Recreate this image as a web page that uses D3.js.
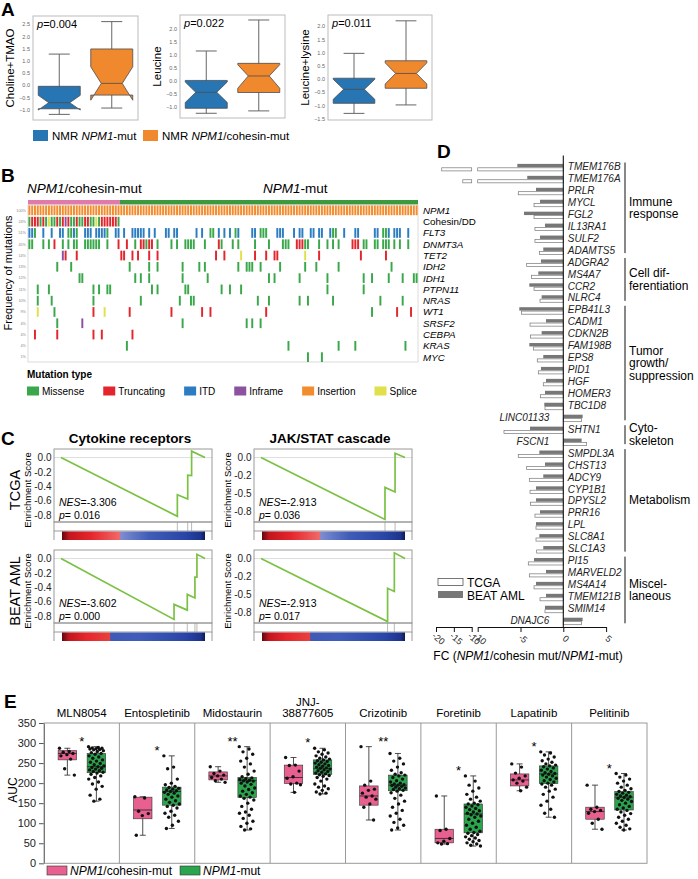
<!DOCTYPE html>
<html>
<head>
<meta charset="utf-8">
<script src="https://cdn.jsdelivr.net/npm/d3@7"></script>
<style>
body{margin:0;background:#fff;}
</style>
</head>
<body>
<div id="vis"></div>
<script>
// ---------- panel A: metabolite boxplots ----------
var metNames = ["Choline+TMAO","Leucine","Leucine+lysine"];
var metP = ["0.004","0.022","0.011"];
var metDomain = [[-1.43,2.83],[-1.41,2.51],[-1.55,2.42]];
var metTicks = [[-1,-0.5,0,0.5,1,1.5,2,2.5],[-1,-0.5,0,0.5,1,1.5,2],[-1.5,-1,-0.5,0,0.5,1,1.5,2]];
// lo, q1, notch lo, median, notch hi, q3, hi
var metMut = [[-1.2,-0.97,-1.02,-0.72,-0.42,-0.05,1.27],[-1.23,-1.04,-0.82,-0.43,-0.04,0.02,1.14],[-1.3,-0.92,-0.77,-0.39,-0.01,0.03,0.97]];
var metCoh = [[-0.94,-0.41,-0.62,0.07,0.75,1.48,2.6],[-1.14,-0.44,-0.28,0.19,0.62,0.67,2.32],[-0.98,-0.35,-0.19,0.21,0.61,0.69,2.2]];
var metLegend = [[["NMR ",0],["NPM1",1],["-mut",0]],[["NMR ",0],["NPM1",1],["/cohesin-mut",0]]];

// ---------- panel B: oncoprint ----------
var genes = ["NPM1","Cohesin/DD","FLT3","DNMT3A","TET2","IDH2","IDH1","PTPN11","NRAS","WT1","SRSF2","CEBPA","KRAS","MYC"];
var nCohesin = 33, nNpm1 = 107;
var mutTypes = ["Missense","Truncating","ITD","Inframe","Insertion","Splice"];
var mutKeys = ["M","T","I","F","N","S"];
var mutColors = ["#3aa84a","#e3262e","#2b7cc0","#8c52a0","#f28c2e","#e0e04a"];
// one letter per cohesin-mut sample
var cohesinDD = "MTTTMTMSMMTMTFTMMTMMTTMMSMTTTTTTM";
// sample index + mutation type
var flt3 = ["0I","1I","2M","5I","8I","11I","12I","14M","15M","16I","17M","20I","21I","22I","24I","25I","26I","27I","28M","31I","32I","34I","37I","38I","39I","40I","41I","43I","45I","49I","50I","52I","53I","60I","62I","65M","66M","68I","70I","72I","74M","75I","80I","81I","83M","84M","85M","89I","90I","91I","95I","97I","98I","101I","102I","104I","105I","108I","109M","110M","113I","117I","118I","124I","125I","127M","128M","129I","131I","132I","133I","136I"];
var dnmt3a = ["0M","1M","5M","7M","9T","12M","14M","16M","17M","20M","21M","22M","23M","24M","25M","28M","32T","35T","38M","40T","41T","42M","43T","44T","46M","51M","53M","56M","57M","58M","59M","63M","68T","69M","73M","75M","81M","86M","91M","92M","93M","96T","97T","98T","99M","100M","104M","107M","109M","111M","116T","117T","118T","120M","121M","124M","125M","127M","128M","129M","131M","133M","136M"];
var tet2 = ["12F","13T","17T","33T","34T","37T","39T","43T","46T","67T","70T","76S","81T","85T","88T","89T","99S","104T","119T","128T"];
var idh2 = ["10M","15M","36M","43M","46M","55M","61M","63M","75M","78M","79M","80M","83M","90M","99M","103M","111M","130M"];
var idh1 = ["18M","19M","38M","40M","43M","55M","64M","86M","88M","97M","107M","120M","123M","129M","134M","138M","139M"];
var ptpn11 = ["3M","7M","23M","25M","28M","29M","44M","46M","56M","57M","69M","72M","76M","107M","120M"];
var nras = ["3M","8M","23M","40M","54M","58M","59M","82M","86M","97M","100M","109M","126M","134M"];
var wt1 = ["3S","9M","23T","27S","36T","51T","62T","65T","85T","123M","132T","137T"];
var srsf2 = ["10M","19F","55M","78M","80M","83M"];
var cebpa = ["2T","10T","23T","26T","37T"];
var kras = ["35M","93M","111M","117M","135M"];
var myc = ["100M","105M"];

// ---------- panel C: GSEA ----------
var gseaTitles = ["Cytokine receptors","JAK/STAT cascade"];
var gseaRows = ["TCGA","BEAT AML"];
var gseaNes = ["-3.306","-2.913","-3.602","-2.913"];
var gseaP = ["0.016","0.036","0.000","0.017"];
var gseaCurves = [
  [[0,0],[0.808,-0.82],[0.808,-0.52],[0.88,-0.58],[0.88,-0.245],[0.907,-0.25],[0.907,0.09],[1,0]],
  [[0,0],[0.861,-0.865],[0.861,-0.417],[0.931,-0.48],[0.931,0.06],[1,0]],
  [[0,0],[0.785,-0.85],[0.785,-0.64],[0.877,-0.72],[0.877,-0.5],[0.93,-0.55],[0.93,-0.26],[0.944,-0.26],[0.944,0.06],[1,0]],
  [[0,0],[0.879,-0.88],[0.879,-0.415],[0.926,-0.46],[0.926,0.08],[1,0]]];
var gseaHits = [[0.808,0.88,0.907],[0.861,0.931],[0.785,0.877,0.93,0.944],[0.879,0.926]];
var gseaSplit = [0.41,0.41,0.34,0.34];
var gseaTicksL = [0,-0.2,-0.4,-0.6,-0.8];
var gseaTicksR = [0,-0.25,-0.5,-0.75];
var gseaTickLabR = ["0.0","-0.2","-0.5","-0.8"];

// ---------- panel D: fold changes ----------
var fcGenes = ["TMEM176B","TMEM176A","PRLR","MYCL","FGL2","IL13RA1","SULF2","ADAMTS5","ADGRA2","MS4A7","CCR2","NLRC4","EPB41L3","CADM1","CDKN2B","FAM198B","EPS8","PID1","HGF","HOMER3","TBC1D8","LINC01133","SHTN1","FSCN1","SMPDL3A","CHST13","ADCY9","CYP1B1","DPYSL2","PRR16","LPL","SLC8A1","SLC1A3","PI15","MARVELD2","MS4A14","TMEM121B","SMIM14","DNAJC6"];
var fcBeat = [-5.37,-4.21,-3.19,-2.72,-4.59,-2.14,-2.72,-2.34,-2.61,-2.92,-3.97,-2.53,-5.14,-2.02,-2.53,-3.97,-2.34,-2.61,-2.02,-2.14,-2.22,2.26,-3.89,2.14,-2.8,-2.14,-2.34,-3.19,-3.19,-2.72,-3.19,-2.8,-2.34,-3.42,-2.02,-3.19,-2.02,-2.14,2.26];
var fcTcga = [-18.4,-12.5,-5.26,-3.42,-3.42,-3.31,-3.31,-2.8,-4.28,-3.7,-3.42,-2.72,-4.87,-3.89,-3.82,-3.5,-3.04,-2.92,-2.34,-2.65,-2.14,2.14,-6.93,2.73,-5.26,-4.28,-3.97,-3.89,-3.82,-3.31,-3.19,-3.19,-3.11,-4.09,-3.97,-3.42,-2.72,-2.14,2.14];
var fcGroupNames = [["Immune","response"],["Cell dif-","ferentiation"],["Tumor","growth/","suppression"],["Cyto-","skeleton"],["Metabolism"],["Miscel-","laneous"]];
var fcGroupSpan = [[0,7],[8,11],[12,21],[22,23],[24,32],[33,38]];
var fcTicksL = [-20,-15,-10], fcTicksR = [-10,-5,0,5];
var fcSeries = ["TCGA","BEAT AML"];

// ---------- panel E: drug AUC ----------
var drugs = ["MLN8054","Entospletinib","Midostaurin","JNJ-38877605","Crizotinib","Foretinib","Lapatinib","Pelitinib"];
var drugSig = ["*","*","**","*","**","*","*","*"];
// lo, q1, median, q3, hi
var cohStats = [[220,258,274,281,287],[70,111,133,165,166],[202,208,218,228,241],[177,199,214,245,264],[108,145,168,193,291],[48,51,62,85,168],[181,193,208,223,248],[85,110,129,140,195]];
var mutStats = [[155,226,241,274,291],[87,145,179,190,268],[83,164,206,214,291],[173,222,237,258,287],[83,181,195,220,274],[43,76,123,148,218],[115,199,223,243,278],[83,133,165,179,224]];
var cohPts = [[287,279,277,274,271,268,260,236,220],[166,163,130,124,119,70],[241,230,224,220,218,214,210,206,202],[264,245,244,230,216,212,200,198,196,177],[291,205,195,185,182,175,168,165,160,148,140,108],[168,85,82,62,55,51,49,48],[248,240,225,218,212,208,205,200,190,181],[195,140,135,132,129,125,110,100,85]];
var mutPts = [[291,289,288,287,286,285,284,283,281,279,276,274,272,268,265,262,258,255,252,249,246,243,241,239,237,235,233,231,229,227,225,222,218,214,210,203,198,192,185,170,160,155],
  [268,240,236,210,200,196,192,189,187,185,183,181,179,177,175,172,168,165,160,156,152,148,145,142,138,130,125,120,115,105,95,87],
  [291,285,278,272,262,255,248,240,230,222,216,213,211,209,207,206,205,203,200,197,193,188,184,180,176,172,168,165,162,158,150,142,135,128,125,120,112,105,100,92,86,83],
  [287,283,278,275,272,268,265,262,260,258,256,254,252,250,248,246,244,242,240,238,237,235,233,231,229,227,225,223,221,219,217,214,210,205,198,193,190,186,182,178,175,173],
  [274,262,255,248,240,232,226,222,220,218,214,210,206,203,200,198,196,195,194,192,190,188,186,184,182,180,176,170,162,155,148,140,132,125,118,110,102,95,88,83],
  [218,205,195,188,180,172,165,160,155,150,148,146,143,140,137,134,131,128,125,123,121,118,115,110,105,100,95,90,85,80,77,75,72,69,66,63,60,57,54,51,48,45,43],
  [278,275,270,265,260,256,252,248,245,243,241,238,235,232,229,226,224,222,220,218,215,212,209,206,203,200,198,195,190,185,180,172,165,155,145,135,125,115],
  [224,220,215,210,205,200,195,190,186,182,179,177,175,172,170,168,166,164,162,160,157,154,150,146,142,138,135,132,128,124,120,115,110,105,100,95,90,86,83]];
var eLegend = [[["NPM1",1],["/cohesin-mut",0]],[["NPM1",1],["-mut",0]]];

// ================= drawing =================
var svg = d3.select("#vis").append("svg").attr("width",698).attr("height",879)
  .style("font-family",'"Liberation Sans", Arial, Helvetica, sans-serif');
var defs = svg.append("defs");

// text made of normal / italic pieces
function rich(t, parts){
  parts.forEach(function(p){ t.append("tspan").text(p[0]).attr("font-style", p[1] ? "italic" : "normal"); });
  return t;}
function letter(s,x,y){ svg.append("text").text(s).attr("x",x).attr("y",y).attr("font-size",19).attr("font-weight","bold"); }
function cleanAxis(ax, size, col){
  ax.attr("font-family",null);
  ax.selectAll("text").attr("font-size",size).attr("fill",col);}
letter("A",1,16); letter("B",1,182); letter("C",1,445); letter("D",437,158); letter("E",4,708);

// ----- A -----
var aFrame = [[33,16,105,104],[180,15,105,103],[328,15,104,105]];
var aCol = ["#2776b3","#f0882e"];
function notchPath(x0,w,y,s){
  var x1 = x0+w, k = w*0.25;
  var p = [[x0,s[1]],[x1,s[1]],[x1,s[2]],[x1-k,s[3]],[x1,s[4]],[x1,s[5]],[x0,s[5]],[x0,s[4]],[x0+k,s[3]],[x0,s[2]]];
  return "M"+p.map(function(d){return d[0]+","+y(d[1]);}).join("L")+"Z";}
metNames.forEach(function(name,i){
  var f = aFrame[i];
  var g = svg.append("g").attr("transform","translate("+f[0]+","+f[1]+")");
  var y = d3.scaleLinear().domain(metDomain[i]).range([f[3],0]);
  var x = d3.scaleBand().domain([0,1]).range([0,f[2]]).paddingInner(0.2).paddingOuter(0.1);
  var ax = g.append("g").call(d3.axisLeft(y).tickValues(metTicks[i]).tickFormat(d3.format(".1f")).tickSize(0).tickPadding(3));
  ax.select(".domain").remove();
  cleanAxis(ax,5.5,"#666");
  g.append("rect").attr("width",f[2]).attr("height",f[3]).attr("fill","none").attr("stroke","#bbb");
  [metMut[i],metCoh[i]].forEach(function(s,j){
    var x0 = x(j), w = x.bandwidth(), cx = x0+w/2;
    g.append("line").attr("x1",cx).attr("x2",cx).attr("y1",y(s[6])).attr("y2",y(s[0])).attr("stroke","#666");
    [s[0],s[6]].forEach(function(v){
      g.append("line").attr("x1",cx-w/4).attr("x2",cx+w/4).attr("y1",y(v)).attr("y2",y(v)).attr("stroke","#666");});
    g.append("path").attr("d",notchPath(x0,w,y,s)).attr("fill",aCol[j]).attr("stroke","#4d4d4d").attr("stroke-width",0.8);
    g.append("line").attr("x1",x0+w*0.25).attr("x2",x0+w*0.75).attr("y1",y(s[3])).attr("y2",y(s[3])).attr("stroke","#4d4d4d").attr("stroke-width",0.8);
  });
  rich(g.append("text").attr("x",4).attr("y",12).attr("font-size",11),[["p",1],["="+metP[i],0]]);
  svg.append("text").text(name).attr("transform","translate("+(f[0]-19)+","+(f[1]+f[3]/2)+") rotate(-90)")
    .attr("text-anchor","middle").attr("font-size",11.5);
});
[33,143].forEach(function(lx,j){
  svg.append("rect").attr("x",lx).attr("y",130).attr("width",15).attr("height",11).attr("fill",aCol[j]);
  rich(svg.append("text").attr("x",lx+19).attr("y",140).attr("font-size",11.5),metLegend[j]);
});

// ----- B -----
var nSamp = nCohesin + nNpm1;
var bx = d3.scaleBand().domain(d3.range(nSamp)).range([28,418]);
var by = d3.scaleBand().domain(genes).range([205.5,362]).paddingInner(0.14);
var geneMuts = [d3.range(nSamp).map(function(k){return k+"N";}), cohesinDD.split("").map(function(t,k){return k+t;}),
  flt3, dnmt3a, tet2, idh2, idh1, ptpn11, nras, wt1, srsf2, cebpa, kras, myc];
svg.append("rect").attr("x",bx(0)).attr("y",200).attr("width",bx(nCohesin)-bx(0)).attr("height",4.5).attr("fill","#e07aab");
svg.append("rect").attr("x",bx(nCohesin)).attr("y",200).attr("width",418-bx(nCohesin)).attr("height",4.5).attr("fill","#3c9a3e");
rich(svg.append("text").attr("x",27).attr("y",193).attr("font-size",13.5),[["NPM1",1],["/cohesin-mut",0]]);
rich(svg.append("text").attr("x",263).attr("y",193).attr("font-size",13.5),[["NPM1",1],["-mut",0]]);
svg.append("rect").attr("x",28).attr("y",205).attr("width",390).attr("height",157).attr("fill","none").attr("stroke","#ccc").attr("stroke-width",0.7);
genes.forEach(function(gname,gi){
  var cols = {};
  geneMuts[gi].forEach(function(tok){
    var c = parseInt(tok), t = mutKeys.indexOf(tok.slice(-1));
    cols[c] = 1;
    svg.append("rect").attr("x",bx(c)+bx.bandwidth()*0.15).attr("y",by(gname)).attr("width",bx.bandwidth()*0.7)
      .attr("height",by.bandwidth()).attr("fill",mutColors[t]);
  });
  var pct = Math.round(100*Object.keys(cols).length/nSamp);
  svg.append("text").text(pct+"%").attr("x",26).attr("y",by(gname)+by.bandwidth()/2+1.3)
    .attr("text-anchor","end").attr("font-size",3.8).attr("fill","#888");
  svg.append("text").text(gname).attr("x",423).attr("y",by(gname)+by.bandwidth()/2+3.5)
    .attr("font-size",9.8).attr("font-style",gname=="Cohesin/DD" ? "normal" : "italic");
});
svg.append("text").text("Frequency of mutations").attr("transform","translate(12,273) rotate(-90)")
  .attr("text-anchor","middle").attr("font-size",11);
svg.append("text").text("Mutation type").attr("x",27).attr("y",378).attr("font-size",10).attr("font-weight","bold");
var lgx = 27;
mutTypes.forEach(function(m,k){
  svg.append("rect").attr("x",lgx).attr("y",386.5).attr("width",12).attr("height",9).attr("fill",mutColors[k]);
  var t = svg.append("text").text(m).attr("x",lgx+15).attr("y",395).attr("font-size",10);
  lgx += 15 + t.node().getComputedTextLength() + 19;
});

// ----- C -----
gseaSplit.forEach(function(sp,i){
  var lg = defs.append("linearGradient").attr("id","rank"+i);
  [[0,"#5c0a12"],[0.05,"#c3151d"],[sp*0.5,"#e5262d"],[sp-0.005,i<2 ? "#f06a6a" : "#e8403f"],[sp,i<2 ? "#7d8dd0" : "#3f5ab6"],
   [Math.min(sp+0.2,0.8),"#3f5cb8"],[0.85,"#2a47a8"],[0.97,"#1d348e"],[1,"#0f1a50"]].forEach(function(s){
    lg.append("stop").attr("offset",s[0]).attr("stop-color",s[1]);});
});
var cFrame = [[54,449],[254,449],[54,550],[254,550]], cW = 158, cH = 73;
gseaCurves.forEach(function(pts,i){
  var fx = cFrame[i][0], fy = cFrame[i][1], col = i%2;
  var g = svg.append("g");
  var x = d3.scaleLinear().domain([0,1]).range([fx+7,fx+cW-7]);
  var y = d3.scaleLinear().domain([-0.9,0.12]).range([fy+cH,fy]);
  g.append("line").attr("x1",fx).attr("x2",fx+cW).attr("y1",y(0)).attr("y2",y(0)).attr("stroke","#ddd");
  var ax = g.append("g").attr("transform","translate("+fx+",0)")
    .call(d3.axisLeft(y).tickValues(col ? gseaTicksR : gseaTicksL).tickSize(0).tickPadding(2.5)
      .tickFormat(function(d,k){ return col ? gseaTickLabR[k] : d3.format(".1f")(d).replace("\u2212","-"); }));
  ax.select(".domain").remove();
  cleanAxis(ax,10,"#222");
  g.append("rect").attr("x",fx).attr("y",fy).attr("width",cW).attr("height",cH).attr("fill","none").attr("stroke","#999");
  g.append("rect").attr("x",fx).attr("y",fy+cH).attr("width",cW).attr("height",9).attr("fill","none").attr("stroke","#999");
  [fx,fx+cW].forEach(function(lx){
    g.append("line").attr("x1",lx).attr("x2",lx).attr("y1",fy+cH+9).attr("y2",fy+cH+18).attr("stroke","#999");});
  gseaHits[i].forEach(function(h){
    g.append("line").attr("x1",x(h)).attr("x2",x(h)).attr("y1",fy+cH).attr("y2",fy+cH+9).attr("stroke","#999").attr("stroke-width",0.7);});
  g.append("rect").attr("x",x(0)+1).attr("y",fy+cH+9.5).attr("width",x(1)-x(0)-1).attr("height",8.5).attr("fill","url(#rank"+i+")");
  g.append("path").datum(pts).attr("d",d3.line().x(function(d){return x(d[0]);}).y(function(d){return y(d[1]);}))
    .attr("fill","none").attr("stroke","#7bc144").attr("stroke-width",1.7);
  rich(g.append("text").attr("x",fx+5).attr("y",fy+57).attr("font-size",10.5),[["NES",1],["="+gseaNes[i],0]]);
  rich(g.append("text").attr("x",fx+5).attr("y",fy+70).attr("font-size",10.5),[["p",1],["= "+gseaP[i],0]]);
  g.append("text").text("Enrichment Score").attr("transform","translate("+(fx-23.5)+","+(fy+41)+") rotate(-90)")
    .attr("text-anchor","middle").attr("font-size",9.5);
  if(i<2){ g.append("text").text(gseaTitles[col]).attr("x",fx+cW/2-3).attr("y",fy-6).attr("text-anchor","middle")
    .attr("font-size",13.5).attr("font-weight","bold"); }
  if(col==0){ g.append("text").text(gseaRows[i/2]).attr("transform","translate(20,"+(fy+41)+") rotate(-90)")
    .attr("text-anchor","middle").attr("font-size",14.5); }
});

// ----- D -----
var fxL = d3.scaleLinear().domain([-20,-10]).range([436,471.7]);
var fxR = d3.scaleLinear().domain([-10,5]).range([477.7,606.1]);
var fyD = d3.scalePoint().domain(fcGenes).range([166.5,620.3]);
function fcBar(v,yt,h,fill,stroke){
  var parts = v >= -10 ? [[fxR(Math.min(v,0)),fxR(Math.max(v,0))]] : [[fxR(-10),fxR(0)],[fxL(v),fxL(-10)]];
  parts.forEach(function(p){
    svg.append("rect").attr("x",p[0]).attr("y",yt).attr("width",p[1]-p[0]).attr("height",h)
      .attr("fill",fill).attr("stroke",stroke).attr("stroke-width",stroke=="none" ? 0 : 0.7);});}
fcGenes.forEach(function(gn,i){
  var yc = fyD(gn);
  fcBar(fcBeat[i],yc-2.6,3.4,"#777","none");
  fcBar(fcTcga[i],yc+1.3,3.1,"#fff","#777");
  var pos = fcBeat[i] > 0;
  svg.append("text").text(gn).attr("x",pos ? fxR(0)-14 : fxR(0)+4.5).attr("y",yc+3.6)
    .attr("text-anchor",pos ? "end" : "start").attr("font-size",10).attr("font-style","italic").attr("fill","#222");
});
svg.append("line").attr("x1",fxR(0)).attr("x2",fxR(0)).attr("y1",155.5).attr("y2",627).attr("stroke","#111").attr("stroke-width",1.1);
fcGroupSpan.forEach(function(sp,k){
  var y0 = fyD(fcGenes[sp[0]])-4, y1 = fyD(fcGenes[sp[1]])+3, mid = (y0+y1)/2, names = fcGroupNames[k];
  svg.append("line").attr("x1",625).attr("x2",625).attr("y1",y0).attr("y2",y1).attr("stroke","#111");
  names.forEach(function(n,j){
    svg.append("text").text(n).attr("x",629).attr("y",mid+4+(j-(names.length-1)/2)*12.5).attr("font-size",12);});
});
[[fxL,fcTicksL],[fxR,fcTicksR]].forEach(function(a){
  var ax = svg.append("g").attr("transform","translate(0,627)")
    .call(d3.axisBottom(a[0]).tickValues(a[1]).tickSize(5).tickSizeOuter(0).tickFormat(function(d){return String(d);}));
  ax.select(".domain").attr("stroke","#111");
  ax.selectAll(".tick line").attr("stroke","#111");
  cleanAxis(ax,9,"#222");
  ax.selectAll("text").attr("y",0).attr("dy",0).attr("text-anchor","middle").attr("transform","translate(0,14) rotate(40)");
});
rich(svg.append("text").attr("x",528).attr("y",660).attr("text-anchor","middle").attr("font-size",12),
  [["FC (",0],["NPM1",1],["/cohesin mut/",0],["NPM1",1],["-mut)",0]]);
fcSeries.forEach(function(s,k){
  svg.append("rect").attr("x",438).attr("y",578.5+k*12.5).attr("width",25).attr("height",7)
    .attr("fill",k ? "#777" : "#fff").attr("stroke",k ? "none" : "#555").attr("stroke-width",0.8);
  svg.append("text").text(s).attr("x",467).attr("y",587+k*12.5).attr("font-size",12);
});

// ----- E -----
var ex = d3.scaleBand().domain(drugs).range([44,647]);
var ey = d3.scaleLinear().domain([0,350]).range([863.3,723]);
var bw = ex.bandwidth(), boxW = 18.5;
var eax = svg.append("g").attr("transform","translate(44,0)").call(d3.axisLeft(ey).tickValues(d3.range(0,351,50)).tickSize(5).tickSizeOuter(0));
eax.select(".domain").attr("stroke","#555");
eax.selectAll(".tick line").attr("stroke","#555");
cleanAxis(eax,11,"#222");
svg.append("rect").attr("x",44).attr("y",ey(350)).attr("width",603).attr("height",ey(0)-ey(350)).attr("fill","none").attr("stroke","#999");
drugs.forEach(function(d,i){ if(i>0) svg.append("line").attr("x1",ex(d)).attr("x2",ex(d)).attr("y1",ey(350)).attr("y2",ey(0)).attr("stroke","#999"); });
function drawBox(cx,s,pts,fill){
  svg.append("line").attr("x1",cx).attr("x2",cx).attr("y1",ey(s[4])).attr("y2",ey(s[0])).attr("stroke","#222").attr("stroke-width",0.8);
  [s[0],s[4]].forEach(function(v){
    svg.append("line").attr("x1",cx-3).attr("x2",cx+3).attr("y1",ey(v)).attr("y2",ey(v)).attr("stroke","#222").attr("stroke-width",0.8);});
  svg.append("rect").attr("x",cx-boxW/2).attr("y",ey(s[3])).attr("width",boxW).attr("height",ey(s[1])-ey(s[3]))
    .attr("fill",fill).attr("stroke","#333").attr("stroke-width",0.6);
  svg.append("line").attr("x1",cx-boxW/2).attr("x2",cx+boxW/2).attr("y1",ey(s[2])).attr("y2",ey(s[2])).attr("stroke","#222").attr("stroke-width",0.8);
  pts.forEach(function(v,j){
    svg.append("circle").attr("cx",cx+(((j*0.618034)%1)-0.5)*boxW*0.85).attr("cy",ey(v)).attr("r",1.7).attr("fill","#111");});}
drugs.forEach(function(d,i){
  var x0 = ex(d);
  drawBox(x0+bw*0.31,cohStats[i],cohPts[i],"#e8608f");
  drawBox(x0+bw*0.695,mutStats[i],mutPts[i],"#2aa44d");
  var top = Math.max(cohStats[i][4],mutStats[i][4]);
  svg.append("text").text(drugSig[i]).attr("x",x0+bw/2).attr("y",ey(top)-1).attr("text-anchor","middle").attr("font-size",13);
  var h = d.indexOf("-"), lines = h>0 ? [d.slice(0,h+1),d.slice(h+1)] : [d];
  lines.forEach(function(l,k){
    svg.append("text").text(l).attr("x",x0+bw/2).attr("y",717-(lines.length-1-k)*11.5).attr("text-anchor","middle")
      .attr("font-size",11.5).style("font-family",'"Liberation Sans Narrow", "Liberation Sans", Arial, sans-serif');});
});
svg.append("text").text("AUC").attr("transform","translate(17,790) rotate(-90)").attr("text-anchor","middle").attr("font-size",12);
var elx = 47;
[["#e8608f"],["#2aa44d"]].forEach(function(l,k){
  svg.append("rect").attr("x",elx).attr("y",866).attr("width",20).attr("height",9).attr("fill",l[0]).attr("stroke","#333").attr("stroke-width",0.6);
  var t = rich(svg.append("text").attr("x",elx+23).attr("y",875).attr("font-size",12),eLegend[k]);
  elx += 23 + t.node().getComputedTextLength() + 8;
});
</script>
</body>
</html>
